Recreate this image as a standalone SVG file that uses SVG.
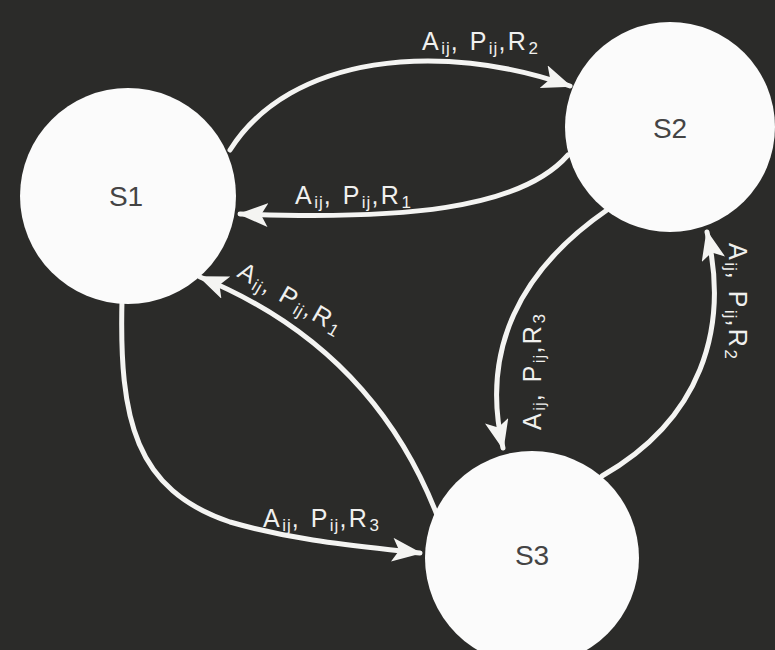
<svg xmlns="http://www.w3.org/2000/svg" width="775" height="650" viewBox="0 0 775 650">
  <defs>
    <marker id="arrow" markerUnits="userSpaceOnUse" markerWidth="30" markerHeight="24" refX="28" refY="12" orient="auto">
      <path d="M0,0 L30,12 L0,24 L7,12 z" fill="#f4f4f2"/>
    </marker>
    <style>
      .edge { fill: none; stroke: #f4f4f2; stroke-width: 5; stroke-linecap: round; marker-end: url(#arrow); }
      .state { fill: #fbfbfb; }
      .name { font-family: "Liberation Sans", Arial, sans-serif; font-size: 28px; fill: #444444; text-anchor: middle; }
      .lbl { font-family: "Liberation Sans", Arial, sans-serif; font-size: 25px; fill: #f0f0ee; letter-spacing: 2.5px; }
      .sub { font-size: 17px; letter-spacing: 1px; }
    </style>
  </defs>
  <rect x="0" y="0" width="775" height="650" fill="#2b2b29"/>

  <g id="connectors">
    <path class="edge" d="M230,150 C290,55 440,40 570,86"/>
    <path class="edge" d="M568,155 C520,210 400,220 240,214"/>
    <path class="edge" d="M437,515 C400,420 330,330 200,277"/>
    <path class="edge" d="M607,210 C520,270 480,350 503,448"/>
    <path class="edge" d="M602,476 C700,420 730,330 707,232"/>
    <path class="edge" d="M122,300 C119,420 135,490 230,522 C300,542 360,546 420,553"/>
  </g>

  <g id="labels">
    <text class="lbl" x="422" y="50">A<tspan class="sub" dy="4">ij</tspan><tspan dy="-4">, P</tspan><tspan class="sub" dy="4">ij</tspan><tspan dy="-4">,R</tspan><tspan class="sub" dy="4">2</tspan></text>
    <text class="lbl" x="295" y="204">A<tspan class="sub" dy="4">ij</tspan><tspan dy="-4">, P</tspan><tspan class="sub" dy="4">ij</tspan><tspan dy="-4">,R</tspan><tspan class="sub" dy="4">1</tspan></text>
    <text class="lbl" transform="translate(236,276) rotate(30)">A<tspan class="sub" dy="4">ij</tspan><tspan dy="-4">, P</tspan><tspan class="sub" dy="4">ij</tspan><tspan dy="-4">,R</tspan><tspan class="sub" dy="4">1</tspan></text>
    <text class="lbl" transform="translate(541,430) rotate(-90)">A<tspan class="sub" dy="4">ij</tspan><tspan dy="-4">, P</tspan><tspan class="sub" dy="4">ij</tspan><tspan dy="-4">,R</tspan><tspan class="sub" dy="4">3</tspan></text>
    <text class="lbl" transform="translate(729,243) rotate(90)">A<tspan class="sub" dy="4">ij</tspan><tspan dy="-4">, P</tspan><tspan class="sub" dy="4">ij</tspan><tspan dy="-4">,R</tspan><tspan class="sub" dy="4">2</tspan></text>
    <text class="lbl" x="263" y="527">A<tspan class="sub" dy="4">ij</tspan><tspan dy="-4">, P</tspan><tspan class="sub" dy="4">ij</tspan><tspan dy="-4">,R</tspan><tspan class="sub" dy="4">3</tspan></text>
  </g>

  <g id="S1">
    <circle class="state" cx="128" cy="196" r="108"/>
    <text class="name" x="126" y="206">S1</text>
  </g>
  <g id="S2">
    <circle class="state" cx="670" cy="127" r="105"/>
    <text class="name" x="670" y="138">S2</text>
  </g>
  <g id="S3">
    <circle class="state" cx="532" cy="558" r="107"/>
    <text class="name" x="532" y="565">S3</text>
  </g>
</svg>
